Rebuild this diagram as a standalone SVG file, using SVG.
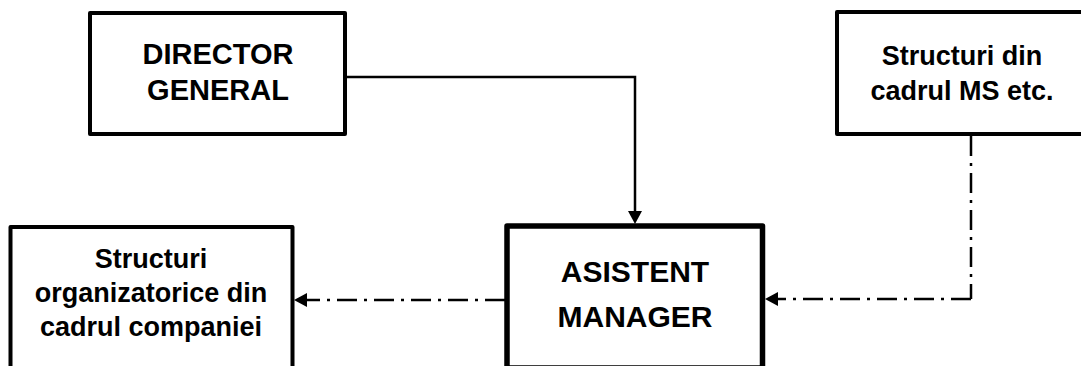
<svg xmlns="http://www.w3.org/2000/svg" width="1081" height="366" viewBox="0 0 1081 366">
  <style>
    .box { fill: #fff; stroke: #000; stroke-width: 4; stroke-linejoin: round; }
    .box-main { stroke-width: 5.5; }
    .lbl { font-family: "Liberation Sans", Arial, sans-serif; font-weight: bold; fill: #000; text-anchor: middle; }
    .solid { fill: none; stroke: #000; stroke-width: 2.5; }
    .dashdot { fill: none; stroke: #000; stroke-width: 2.5; stroke-dasharray: 20 7 3 7; }
  </style>
  <defs>
    <marker id="arrow" markerUnits="userSpaceOnUse" markerWidth="13" markerHeight="14" refX="0" refY="7" orient="auto">
      <path d="M0,0 L13,7 L0,14 Z" fill="#000"/>
    </marker>
  </defs>
  <rect width="1081" height="366" fill="#fff"/>

  <g id="connectors">
    <!-- Director General to Asistent Manager -->
    <path class="solid" d="M345,77 H635 V211" marker-end="url(#arrow)"/>
    <!-- Structuri MS to Asistent Manager -->
    <path class="dashdot" d="M971,136 V299"/>
    <path class="dashdot" d="M971,299 H778" marker-end="url(#arrow)"/>
    <!-- Asistent Manager to company structures -->
    <path class="dashdot" d="M505,300 H307" marker-end="url(#arrow)"/>
  </g>

  <g id="director-general">
    <rect class="box" x="90" y="13" width="255" height="121"/>
    <text class="lbl" font-size="29" x="218" y="64">DIRECTOR</text>
    <text class="lbl" font-size="29" x="218" y="100">GENERAL</text>
  </g>

  <g id="structuri-ms">
    <rect class="box" x="837" y="12" width="260" height="122"/>
    <text class="lbl" font-size="27" x="962" y="65">Structuri din</text>
    <text class="lbl" font-size="27" x="962" y="100">cadrul MS etc.</text>
  </g>

  <g id="structuri-companie">
    <rect class="box" x="10.5" y="227" width="282" height="150"/>
    <text class="lbl" font-size="27" x="151" y="268">Structuri</text>
    <text class="lbl" font-size="27" x="151" y="302">organizatorice din</text>
    <text class="lbl" font-size="27" x="151" y="336">cadrul companiei</text>
  </g>

  <g id="asistent-manager">
    <rect class="box box-main" x="507" y="226" width="255.5" height="142"/>
    <text class="lbl" font-size="30" x="635" y="282">ASISTENT</text>
    <text class="lbl" font-size="30" x="635" y="327">MANAGER</text>
  </g>
</svg>
